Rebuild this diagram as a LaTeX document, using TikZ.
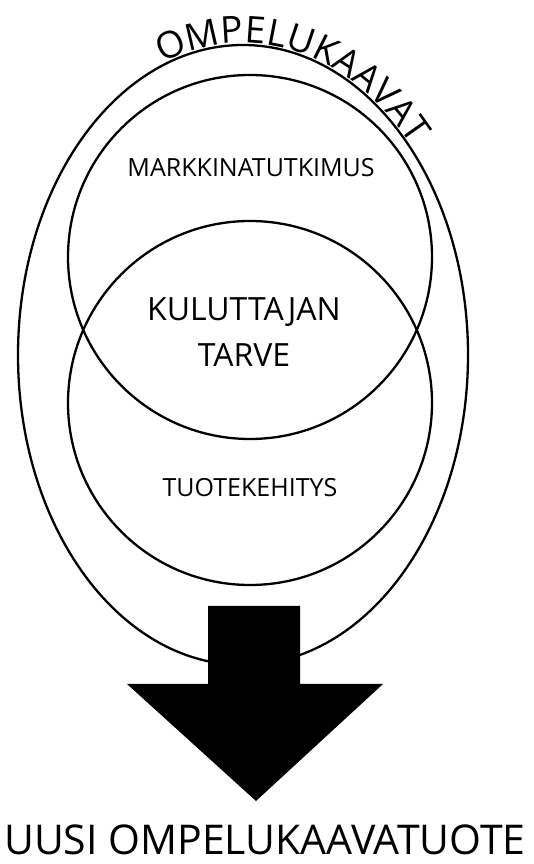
\documentclass[tikz,border=0pt]{standalone}
\usepackage{fontspec}
\setmainfont{Open Sans}
\usetikzlibrary{decorations.text}
\begin{document}
\begin{tikzpicture}[x=1pt,y=1pt,
  ring/.style={draw=black,line width=2.3pt},
  lbl/.style={inner sep=0pt,align=center}]
\useasboundingbox (0,0) rectangle (534,864);
\fill[white] (0,0) rectangle (534,864);
% outer ellipse
\draw[ring] (243,509) ellipse [x radius=225, y radius=310];
% circles
\draw[ring] (250,607) circle [radius=182];
\draw[ring] (250,461) circle [radius=182];
% curved text
\path[decorate,decoration={text along path,text align=center,raise=2pt,
  text={|\fontsize{37}{37}\selectfont|OMPELUKAAVAT}}]
  (243,509) ++(118:225 and 310) arc [start angle=118,end angle=36,x radius=225,y radius=310];
% arrow
\fill[black] (208,258) -- (300,258) -- (300,180) -- (383,180) -- (256,63) -- (127,180) -- (208,180) -- cycle;
\node[lbl,font=\fontsize{25}{28}\selectfont] (mk) at (251,696) {MARKKINATUTKIMUS};
\node[lbl,font=\fontsize{32}{46}\selectfont] (kt) at (244,532) {KULUTTAJAN\\TARVE};
\node[lbl,font=\fontsize{25}{28}\selectfont] (tk) at (250,376) {TUOTEKEHITYS};
\node[lbl,font=\fontsize{41}{44}\selectfont] (uu) at (265,24) {UUSI OMPELUKAAVATUOTE};
\end{tikzpicture}
\end{document}
